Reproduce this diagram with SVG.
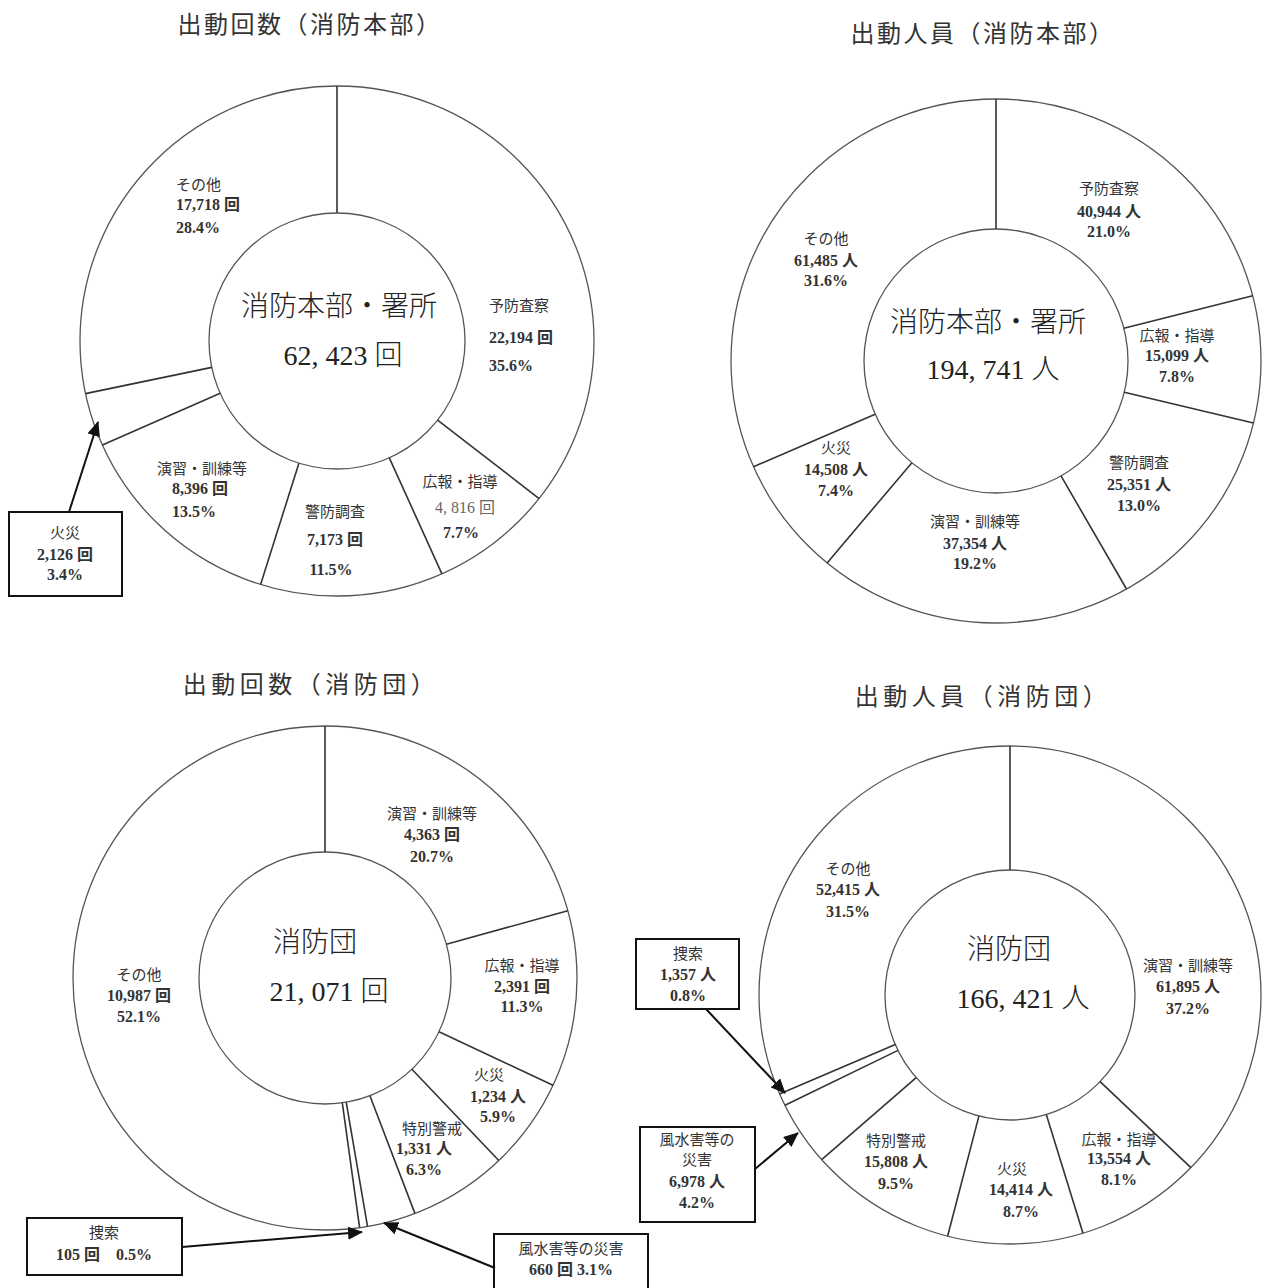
<svg xmlns="http://www.w3.org/2000/svg" width="1266" height="1288" viewBox="0 0 1266 1288">
<defs>
<style>
.title{font-family:"Noto Sans CJK JP","Noto Sans",sans-serif;font-size:24px;fill:#333;text-anchor:middle;letter-spacing:2.5px}
.wide{letter-spacing:4.5px}
.ctr{font-family:"Liberation Serif","Noto Sans CJK JP",serif;font-size:28px;fill:#222;text-anchor:middle;font-weight:300}
.lbl{font-family:"Liberation Serif","Noto Sans CJK JP",serif;font-size:15px;fill:#333;text-anchor:middle}
.num{font-family:"Liberation Serif","Noto Sans CJK JP",serif;font-size:16px;fill:#333;text-anchor:middle;font-weight:bold}
.l{text-anchor:start}
.ring{fill:none;stroke:#555;stroke-width:1.3}
.inner{fill:#fff;stroke:#555;stroke-width:1.3}
.seg{stroke:#333;stroke-width:1.6}
.box{fill:#fff;stroke:#111;stroke-width:2}
.arr{stroke:#111;stroke-width:2;fill:none;marker-end:url(#ah)}
</style>
<marker id="ah" markerUnits="userSpaceOnUse" markerWidth="15" markerHeight="13" refX="14" refY="6.5" orient="auto">
<path d="M0,0 L15,6.5 L0,13 z" fill="#111"/>
</marker>
</defs>
<rect width="1266" height="1288" fill="#fff"/>

<g id="chart1">
<text class="title" x="310" y="33">出動回数（消防本部）</text>
<ellipse class="ring" cx="337" cy="341" rx="257" ry="255"/>
<circle class="inner" cx="337" cy="341" r="128"/>
<line class="seg" x1="337" y1="86" x2="337" y2="213"/>
<line class="seg" x1="437.6" y1="420.1" x2="539.1" y2="498.6"/>
<line class="seg" x1="389.3" y1="457.8" x2="441.9" y2="573.8"/>
<line class="seg" x1="298.9" y1="463.2" x2="260.6" y2="584.5"/>
<line class="seg" x1="220.2" y1="393.3" x2="102.4" y2="445.1"/>
<line class="seg" x1="211.8" y1="367.4" x2="85.5" y2="393.6"/>
<text class="ctr" x="339" y="316">消防本部・署所</text>
<text class="ctr" x="343" y="365">62, 423 回</text>
<text class="lbl l" x="176" y="190">その他</text>
<text class="num l" x="176" y="210">17,718 回</text>
<text class="num l" x="176" y="233">28.4%</text>
<text class="lbl l" x="489" y="311">予防査察</text>
<text class="num l" x="489" y="343">22,194 回</text>
<text class="num l" x="489" y="371">35.6%</text>
<text class="lbl" x="460" y="487">広報・指導</text>
<text class="num" x="465" y="513" style="fill:#666;font-weight:normal">4, 816 回</text>
<text class="num" x="461" y="538">7.7%</text>
<text class="lbl" x="335" y="517">警防調査</text>
<text class="num" x="335" y="545">7,173 回</text>
<text class="num" x="331" y="575">11.5%</text>
<text class="lbl" x="202" y="474">演習・訓練等</text>
<text class="num" x="200" y="494">8,396 回</text>
<text class="num" x="194" y="517">13.5%</text>
<g id="box1-fire">
<rect class="box" x="9" y="512" width="113" height="84"/>
<text class="lbl" x="65" y="538">火災</text>
<text class="num" x="65" y="560">2,126 回</text>
<text class="num" x="65" y="580">3.4%</text>
</g>
</g>

<g id="chart2">
<text class="title" x="983" y="42">出動人員（消防本部）</text>
<ellipse class="ring" cx="996" cy="361" rx="265" ry="262"/>
<circle class="inner" cx="996" cy="361" r="132"/>
<line class="seg" x1="996" y1="99" x2="996" y2="229"/>
<line class="seg" x1="1123.9" y1="328.2" x2="1252.7" y2="295.8"/>
<line class="seg" x1="1124.2" y1="392.3" x2="1253.4" y2="423"/>
<line class="seg" x1="1061" y1="475.9" x2="1126.5" y2="589"/>
<line class="seg" x1="911.9" y1="462.7" x2="827.1" y2="562.9"/>
<line class="seg" x1="875.2" y1="414.3" x2="753.5" y2="466.7"/>
<text class="ctr" x="988" y="332">消防本部・署所</text>
<text class="ctr" x="993" y="379">194, 741 人</text>
<text class="lbl" x="1109" y="194">予防査察</text>
<text class="num" x="1109" y="217">40,944 人</text>
<text class="num" x="1109" y="237">21.0%</text>
<text class="lbl" x="826" y="244">その他</text>
<text class="num" x="826" y="266">61,485 人</text>
<text class="num" x="826" y="286">31.6%</text>
<text class="lbl" x="1177" y="341">広報・指導</text>
<text class="num" x="1177" y="361">15,099 人</text>
<text class="num" x="1177" y="382">7.8%</text>
<text class="lbl" x="1139" y="468">警防調査</text>
<text class="num" x="1139" y="490">25,351 人</text>
<text class="num" x="1139" y="511">13.0%</text>
<text class="lbl" x="975" y="527">演習・訓練等</text>
<text class="num" x="975" y="549">37,354 人</text>
<text class="num" x="975" y="569">19.2%</text>
<text class="lbl" x="836" y="453">火災</text>
<text class="num" x="836" y="475">14,508 人</text>
<text class="num" x="836" y="496">7.4%</text>
</g>

<g id="chart3">
<text class="title wide" x="311" y="693">出動回数（消防団）</text>
<circle class="ring" cx="325" cy="978" r="252"/>
<circle class="inner" cx="325" cy="978" r="126"/>
<line class="seg" x1="325" y1="726" x2="325" y2="852"/>
<line class="seg" x1="446.4" y1="944.3" x2="567.8" y2="910.7"/>
<line class="seg" x1="439" y1="1031.7" x2="553" y2="1085.3"/>
<line class="seg" x1="411.9" y1="1069.2" x2="498.8" y2="1160.5"/>
<line class="seg" x1="369.9" y1="1095.7" x2="414.9" y2="1213.4"/>
<line class="seg" x1="346.2" y1="1102.2" x2="367.5" y2="1226.4"/>
<line class="seg" x1="342.3" y1="1102.8" x2="359.6" y2="1227.6"/>
<text class="ctr" x="315" y="952">消防団</text>
<text class="ctr" x="329" y="1001">21, 071 回</text>
<text class="lbl" x="432" y="819">演習・訓練等</text>
<text class="num" x="432" y="840">4,363 回</text>
<text class="num" x="432" y="862">20.7%</text>
<text class="lbl" x="522" y="971">広報・指導</text>
<text class="num" x="522" y="992">2,391 回</text>
<text class="num" x="522" y="1012">11.3%</text>
<text class="lbl" x="489" y="1080">火災</text>
<text class="num" x="498" y="1102">1,234 人</text>
<text class="num" x="498" y="1122">5.9%</text>
<text class="lbl" x="432" y="1134">特別警戒</text>
<text class="num" x="424" y="1154">1,331 人</text>
<text class="num" x="424" y="1175">6.3%</text>
<text class="lbl" x="139" y="980">その他</text>
<text class="num" x="139" y="1001">10,987 回</text>
<text class="num" x="139" y="1022">52.1%</text>
<g id="box3-search">
<rect class="box" x="27" y="1218" width="155" height="57"/>
<text class="lbl" x="104" y="1238">捜索</text>
<text class="num" x="104" y="1260">105 回　0.5%</text>
</g>
<g id="box3-storm">
<rect class="box" x="494" y="1234" width="154" height="62"/>
<text class="lbl" x="571" y="1254">風水害等の災害</text>
<text class="num" x="571" y="1275">660 回 3.1%</text>
</g>
</g>

<g id="chart4">
<text class="title wide" x="983" y="705">出動人員（消防団）</text>
<ellipse class="ring" cx="1010" cy="995" rx="251" ry="249"/>
<circle class="inner" cx="1010" cy="995" r="125"/>
<line class="seg" x1="1010" y1="746" x2="1010" y2="870"/>
<line class="seg" x1="1100.1" y1="1081.7" x2="1190.9" y2="1167.7"/>
<line class="seg" x1="1046.3" y1="1114.6" x2="1083" y2="1233.2"/>
<line class="seg" x1="978.9" y1="1116.1" x2="947.6" y2="1236.2"/>
<line class="seg" x1="916.2" y1="1077.7" x2="821.7" y2="1159.7"/>
<line class="seg" x1="898" y1="1050.4" x2="785" y2="1105.3"/>
<line class="seg" x1="895.3" y1="1044.6" x2="779.6" y2="1093.9"/>
<text class="ctr" x="1009" y="959">消防団</text>
<text class="ctr" x="1023" y="1008">166, 421 人</text>
<text class="lbl" x="848" y="874">その他</text>
<text class="num" x="848" y="895">52,415 人</text>
<text class="num" x="848" y="917">31.5%</text>
<text class="lbl" x="1188" y="971">演習・訓練等</text>
<text class="num" x="1188" y="992">61,895 人</text>
<text class="num" x="1188" y="1014">37.2%</text>
<text class="lbl" x="1119" y="1145">広報・指導</text>
<text class="num" x="1119" y="1164">13,554 人</text>
<text class="num" x="1119" y="1185">8.1%</text>
<text class="lbl" x="1012" y="1174">火災</text>
<text class="num" x="1021" y="1195">14,414 人</text>
<text class="num" x="1021" y="1217">8.7%</text>
<text class="lbl" x="896" y="1146">特別警戒</text>
<text class="num" x="896" y="1167">15,808 人</text>
<text class="num" x="896" y="1189">9.5%</text>
<g id="box4-search">
<rect class="box" x="636" y="939" width="103" height="70"/>
<text class="lbl" x="688" y="959">捜索</text>
<text class="num" x="688" y="980">1,357 人</text>
<text class="num" x="688" y="1001">0.8%</text>
</g>
<g id="box4-storm">
<rect class="box" x="640" y="1127" width="115" height="95"/>
<text class="lbl" x="697" y="1145">風水害等の</text>
<text class="lbl" x="697" y="1165">災害</text>
<text class="num" x="697" y="1187">6,978 人</text>
<text class="num" x="697" y="1208">4.2%</text>
</g>
</g>

<g id="connectors">
<line class="arr" x1="69" y1="512" x2="98" y2="422"/>
<line class="arr" x1="182" y1="1247" x2="362" y2="1232"/>
<line class="arr" x1="495" y1="1268" x2="384" y2="1223"/>
<line class="arr" x1="706" y1="1009" x2="785" y2="1093"/>
<line class="arr" x1="755" y1="1169" x2="798" y2="1133"/>
</g>
</svg>
